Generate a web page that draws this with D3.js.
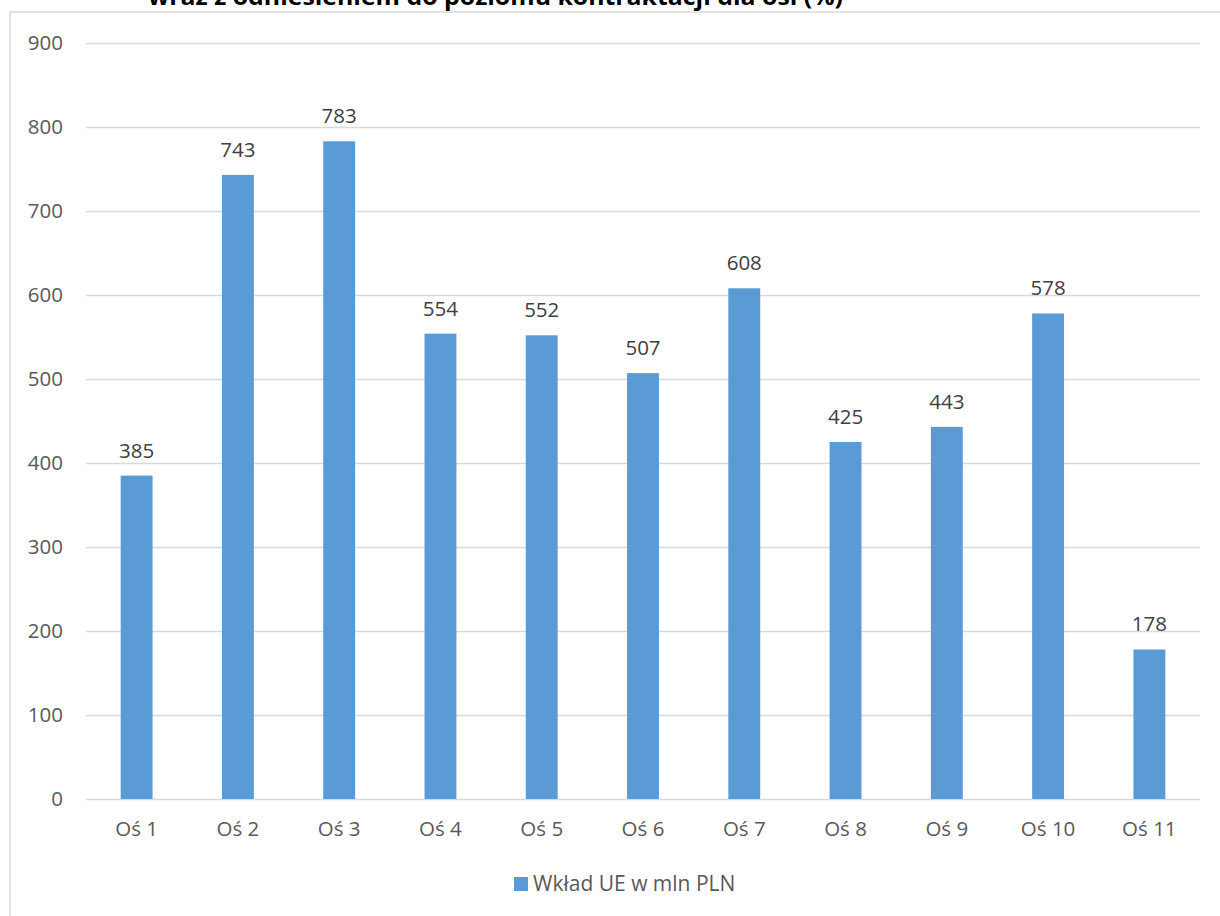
<!DOCTYPE html>
<html>
<head>
<meta charset="utf-8">
<script src="https://cdn.jsdelivr.net/npm/d3@7/dist/d3.min.js"></script>
<style>
  body { margin: 0; background: #fff; }
  svg { display: block; font-family: "Open Sans", "Noto Sans", sans-serif; }
</style>
</head>
<body>
<div id="chart"></div>
<script>
// chart data
const categories = ["Oś 1", "Oś 2", "Oś 3", "Oś 4", "Oś 5", "Oś 6", "Oś 7", "Oś 8", "Oś 9", "Oś 10", "Oś 11"];
const values = [385, 743, 783, 554, 552, 507, 608, 425, 443, 578, 178];
const yTicks = [0, 100, 200, 300, 400, 500, 600, 700, 800, 900];
const seriesName = "Wkład UE w mln PLN";
const titleText = "wraz z odniesieniem do poziomu kontraktacji dla osi (%)";

const width = 1220, height = 916;
const margin = { top: 43, right: 20, bottom: 117, left: 86 };

const svg = d3.select("#chart").append("svg")
    .attr("width", width)
    .attr("height", height);

// chart frame (right and bottom edges run off the picture)
svg.append("rect")
    .attr("x", 10)
    .attr("y", 12)
    .attr("width", width + 20)
    .attr("height", height + 20)
    .attr("fill", "none")
    .attr("stroke", "#d9d9d9")
    .attr("stroke-width", 1.5);

// title, cut off at the top like in the original
svg.append("text")
    .attr("x", 148)
    .attr("y", 5)
    .attr("font-size", "24px")
    .attr("font-weight", "bold")
    .attr("fill", "#000")
    .attr("textLength", 695)
    .attr("lengthAdjust", "spacingAndGlyphs")
    .text(titleText);

const x = d3.scaleBand()
    .domain(categories)
    .range([margin.left, width - margin.right])
    .paddingInner(0.685)
    .paddingOuter(0.3425);

const y = d3.scaleLinear()
    .domain([0, 900])
    .range([height - margin.bottom, margin.top]);

// gridlines
svg.append("g")
    .selectAll("line")
    .data(yTicks)
    .join("line")
    .attr("x1", margin.left)
    .attr("x2", width - margin.right)
    .attr("y1", d => Math.round(y(d)) + 0.5)
    .attr("y2", d => Math.round(y(d)) + 0.5)
    .attr("stroke", "#d9d9d9")
    .attr("stroke-width", 1.3);

// y labels
svg.append("g")
    .selectAll("text")
    .data(yTicks)
    .join("text")
    .attr("x", 63)
    .attr("y", d => y(d))
    .attr("dy", "0.35em")
    .attr("text-anchor", "end")
    .attr("font-size", "20.5px")
    .attr("fill", "#595959")
    .text(d => d);

// bars
svg.append("g")
    .selectAll("rect")
    .data(values)
    .join("rect")
    .attr("x", (d, i) => x(categories[i]))
    .attr("y", d => y(d))
    .attr("width", x.bandwidth())
    .attr("height", d => y(0) - y(d))
    .attr("fill", "#5b9bd5");

// value labels
svg.append("g")
    .selectAll("text")
    .data(values)
    .join("text")
    .attr("x", (d, i) => x(categories[i]) + x.bandwidth() / 2)
    .attr("y", d => y(d) - 18)
    .attr("text-anchor", "middle")
    .attr("font-size", "20.5px")
    .attr("fill", "#404040")
    .text(d => d);

// x labels
svg.append("g")
    .selectAll("text")
    .data(categories)
    .join("text")
    .attr("x", d => x(d) + x.bandwidth() / 2)
    .attr("y", y(0) + 37)
    .attr("text-anchor", "middle")
    .attr("font-size", "20.5px")
    .attr("fill", "#595959")
    .text(d => d);

// legend
const legend = svg.append("g").attr("transform", "translate(514, 884)");
legend.append("rect")
    .attr("x", 0)
    .attr("y", -7)
    .attr("width", 14)
    .attr("height", 14)
    .attr("fill", "#5b9bd5");
legend.append("text")
    .attr("x", 19)
    .attr("y", 0)
    .attr("dy", "0.35em")
    .attr("font-size", "21px")
    .attr("fill", "#595959")
    .text(seriesName);
</script>
</body>
</html>
